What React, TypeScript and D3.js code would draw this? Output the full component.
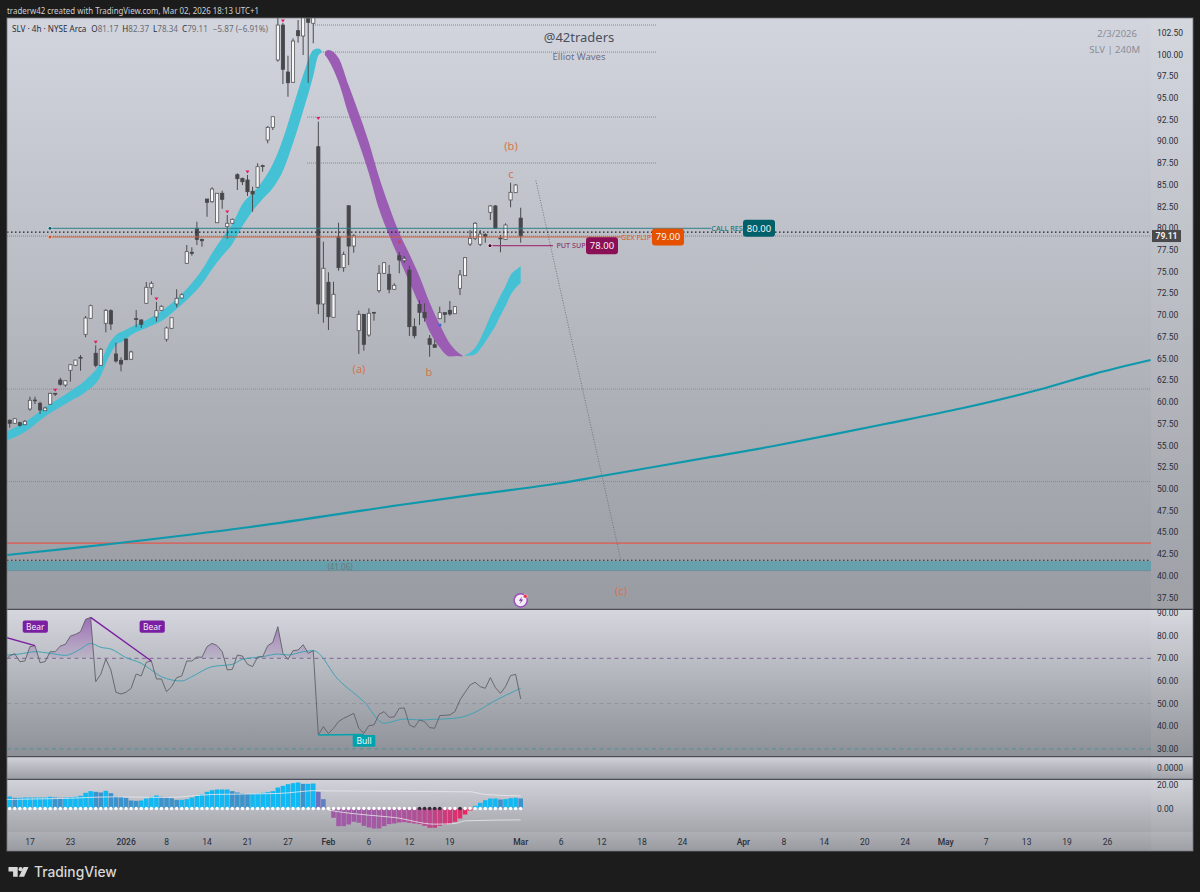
import React from "react";
import * as d3 from "d3";

// 4h candles, bar index 0..101
const opens = [
  57.91,57.56,57.63,57.40,59.21,60.24,59.86,59.01,59.75,61.01,
  62.54,61.97,63.66,64.23,65.15,67.80,69.64,65.62,64.23,69.07,
  70.52,65.54,64.81,67.26,64.93,69.60,69.45,71.37,73.16,69.79,
  70.56,67.23,68.49,71.29,71.98,75.97,77.24,80.00,78.73,83.37,
  83.06,80.64,84.03,80.18,80.58,86.17,85.75,85.56,84.26,84.72,
  87.20,90.16,91.62,99.37,103.39,97.98,96.80,102.74,102.13,104.16,
  103.59,89.39,71.29,73.79,69.76,79.03,75.47,82.60,77.96,68.22,
  70.10,67.72,70.33,72.82,74.82,74.71,72.98,76.85,76.27,75.20,
  68.68,71.25,70.33,67.30,66.60,69.60,70.29,70.56,70.17,73.09,
  74.55,78.19,78.85,78.16,79.31,81.84,82.57,78.88,78.73,83.26,
  84.10,81.17,
];
const closes = [
  57.56,58.09,57.33,57.79,60.21,60.16,59.09,59.32,61.01,60.93,
  62.05,62.46,64.30,64.84,65.07,69.68,71.09,64.23,66.08,70.56,
  68.99,64.73,64.38,64.88,65.77,69.53,68.95,73.21,73.67,70.52,
  71.02,68.53,69.71,71.94,72.36,77.31,77.12,78.73,78.57,82.99,
  84.52,84.03,83.34,80.58,81.04,85.71,85.36,84.21,83.95,87.09,
  87.13,91.62,92.84,103.39,98.30,96.75,101.55,102.16,105.50,103.70,
  104.60,71.29,75.40,69.83,72.41,75.47,77.00,77.96,79.15,70.10,
  66.65,70.22,70.25,74.82,76.04,72.98,73.44,76.35,76.55,68.68,
  67.64,70.33,69.71,66.65,66.31,70.29,70.10,70.14,70.98,74.63,
  76.62,78.85,80.58,79.34,79.03,82.57,80.00,78.80,80.38,84.14,
  84.98,79.11,
];
const highs = [
  58.02,58.17,57.75,57.94,60.62,60.62,60.05,59.47,61.08,61.01,
  62.81,62.46,64.38,64.84,65.42,69.91,71.21,66.54,66.23,70.71,
  70.68,66.83,65.15,67.32,65.91,70.60,69.53,73.82,73.90,71.52,
  71.14,68.68,69.71,72.98,72.52,78.08,77.81,80.76,78.80,83.37,
  84.72,84.06,84.33,81.53,81.13,86.33,85.82,86.13,84.79,87.48,
  87.32,91.77,92.84,105.2,103.62,99.86,101.86,103.97,107.0,106.0,
  107.0,92.27,78.46,74.94,73.85,80.64,77.31,82.60,79.34,70.52,
  70.14,70.79,70.36,75.78,76.12,75.78,73.67,77.27,76.81,75.70,
  69.64,71.75,71.37,67.72,67.15,70.98,70.31,71.63,71.06,75.20,
  76.70,79.80,80.72,79.80,79.42,82.68,82.68,79.23,80.57,85.25,
  85.10,82.37,
];
const lows = [
  57.05,57.48,57.17,57.35,59.01,59.78,58.63,58.98,59.67,60.70,
  61.89,61.77,62.35,64.15,63.61,67.46,69.56,64.00,64.15,68.03,
  68.30,64.53,63.54,64.84,64.84,68.61,68.53,71.29,72.32,69.25,
  70.48,66.95,68.41,70.91,71.94,75.89,76.85,78.08,77.88,81.33,
  82.95,80.61,82.25,78.80,80.49,84.41,84.98,83.72,81.91,84.64,
  86.51,89.78,91.31,99.17,96.60,95.14,96.75,101.36,99.94,96.75,
  101.29,70.14,69.13,68.30,69.71,75.12,75.00,75.76,77.19,65.54,
  65.91,67.53,69.37,72.59,74.74,72.52,72.90,74.82,76.00,67.61,
  67.34,68.87,69.25,65.22,66.26,69.53,69.13,69.94,70.14,72.32,
  74.51,77.96,78.65,77.96,78.34,80.95,79.95,77.24,78.65,82.42,
  84.06,78.34,
];
const signalBars = [9, 17, 29, 43, 47, 54, 61];

// ribbon pieces: bar index, upper edge, lower edge
const riseIdx = [-0.6,3,7,12,15,18,19.5,21,22.5,24,27,30,33,36,38,40,42,44,46,48,50,52,54,56,58,60,61,61.6];
const riseHi = [56.62,57.71,59.38,61.28,62.54,64.61,66.57,67.72,68.18,68.64,69.45,70.48,71.86,73.71,75.2,77.16,78.88,80.49,82.80,84.06,85.44,87.40,90.28,93.96,97.64,100.52,100.69,100.46];
const riseLo = [55.58,56.56,58.34,60.13,61.16,63.0,65.07,66.57,67.03,67.72,68.53,69.33,70.71,72.32,73.59,75.32,76.81,78.19,80.26,81.99,83.37,84.64,86.59,89.81,93.50,97.52,99.88,100.17];
const fallIdx = [62.3,63,65,67,69,71,73,75,77,79,81,83,85,87,88.5,89.5];
const fallHi = [100.29,100.52,99.6,96.43,93.27,89.87,85.90,82.51,79.46,77.04,74.45,71.46,68.93,66.74,65.77,65.36];
const fallLo = [99.94,99.37,96.83,93.09,89.82,86.31,82.22,79.17,76.47,73.82,71.12,68.12,66.28,65.25,65.30,65.25];
const reboundIdx = [90,91,92,93,94,95,96,97,98,99,100,101];
const reboundHi = [65.42,65.71,66.28,67.26,68.53,69.91,71.06,72.27,73.36,74.63,75.2,75.66];
const reboundLo = [65.30,65.36,65.48,66.11,66.92,67.84,68.76,69.96,71.06,72.32,73.13,73.71];

// long moving average
const maIdx = [-0.6,20.8,47.5,77.1,93,108.7,117,139,151,173,188.2,203.2,214.7,225.5];
const maVal = [42.40,43.73,45.63,48.16,49.43,50.66,51.50,53.72,54.95,57.48,59.29,61.39,63.31,64.84];

// rsi from bar -1
const rsi = [
  68.5,71.16,72.04,68.51,68.81,75.13,75.57,68.07,68.51,72.92,72.92,
  75.42,76.16,79.83,80.57,81.75,87.19,88.07,59.69,62.93,69.69,
  64.84,54.99,54.25,54.99,56.75,63.07,62.19,68.22,68.81,60.87,
  60.87,55.28,57.49,61.46,62.19,68.81,68.81,70.57,70.43,75.13,
  76.60,75.57,72.92,64.84,65.13,71.45,71.01,67.34,66.31,70.57,
  70.72,75.57,77.04,83.95,72.19,69.54,73.37,73.66,76.01,72.19,
  73.37,36.16,39.84,36.75,39.11,42.05,43.52,44.55,45.72,39.11,
  36.90,40.28,40.58,45.28,46.46,43.96,44.10,47.93,48.07,40.58,
  39.55,42.78,42.05,39.40,39.11,44.69,44.84,44.99,46.46,51.60,
  54.99,58.22,59.40,57.49,56.75,61.46,57.04,54.54,57.49,62.34,
  62.93,52.04,
];
const rsiMaIdx = [-0.6,2,5,8,11,14,16,18,20,23,26,28,30,34,36,40,44,46,50,53,55,58,60,65,70,74,78,81,84,88,92,95,101];
const rsiMaVal = [71.45,71.89,72.92,72.19,71.31,74.10,76.60,74.84,74.10,70.28,67.78,64.84,61.90,59.98,61.90,66.31,67.34,69.54,70.72,71.89,71.45,72.92,73.37,60.43,50.87,41.31,43.22,42.78,43.07,43.52,46.16,50.13,56.75];

// oscillator histogram, bar index 0..101
const osc = [
  10.26,9.12,9.12,9.40,9.40,9.40,9.40,9.40,9.97,9.40,
  9.12,9.40,9.69,9.97,10.83,13.39,14.81,14.25,13.68,15.10,
  13.11,10.26,9.97,9.12,6.84,6.55,6.84,8.55,9.97,11.11,
  9.97,9.40,8.83,7.41,7.41,7.98,9.40,10.83,11.97,14.25,
  15.67,16.24,16.24,16.24,14.81,13.68,12.82,12.54,12.54,12.82,
  13.39,13.96,14.81,17.95,19.37,20.80,21.65,22.22,21.08,21.08,
  21.37,14.25,7.98,0,-7.98,-15.10,-15.10,-13.68,-11.40,-12.25,
  -14.81,-16.24,-17.09,-17.09,-15.10,-13.39,-12.82,-11.97,-11.68,-12.25,
  -12.82,-13.39,-14.81,-16.52,-16.52,-14.81,-13.68,-13.11,-11.40,-8.55,
  -5.13,-1.71,2.28,4.84,7.12,8.55,8.55,7.69,7.98,8.83,
  9.12,8.55,
];
const squeezeBars = [81, 82, 83, 84, 85, 89];
const bandUpIdx = [-0.6,10,21,31,40,53,61,62,91,94,101];
const bandUpVal = [7.69,8.55,9.97,9.40,11.97,12.82,15.38,15.10,14.25,11.97,10.83];
const bandDnIdx = [63,66,71,76,84,88,90,101];
const bandDnVal = [-1.42,-3.42,-5.70,-7.69,-13.39,-12.82,-10.54,-9.69];

const priceTicks = d3.range(37.5, 103, 2.5);
const rsiTicks = [30, 40, 50, 60, 70, 80, 90];
const dateTickBars = [4,12,23,31,39,47,55,63,71,79,87,101,109,117,125,133,145,153,161,169,177,185,193,201,209,217];
const dateTickLabels = ["17","23","2026","8","14","21","27","Feb","6","12","19","Mar","6","12","18","24","Apr","8","14","20","24","May","7","13","19","26"];
const boldTicks = ["2026", "Feb", "Mar", "Apr", "May"];

const fullLevels = [61.5, 50.86];
const shortLevels = [103.39, 100.28, 92.8, 87.51];

const W = 1200;
const H = 892;
const L = 7;
const R = 1151;
const FONT = "'Noto Sans', sans-serif";

const x = d3.scaleLinear().domain([0, 101]).range([9.7, 520.7]);
const y = d3.scaleLinear().domain([100, 40]).range([54.5, 575.9]);
const yRsi = d3.scaleLinear().domain([70, 30]).range([658.3, 748.9]);
const yOsc = d3.scaleLinear().domain([0, 20]).range([808.5, 785.1]);

function ribbon(idx: number[], hi: number[], lo: number[]) {
  return d3.area<number>()
    .x((d) => x(d))
    .y0((_, i) => y(lo[i]))
    .y1((_, i) => y(hi[i]))
    .curve(d3.curveMonotoneX)(idx) as string;
}
const linePath = (xs: number[], ys: number[], sy: (v: number) => number, curve: d3.CurveFactory = d3.curveLinear) =>
  d3.line<number>().x((d) => x(d)).y((_, i) => sy(ys[i])).curve(curve)(xs) as string;

const rsiBars = rsi.map((_, i) => i - 1);

function oscColor(i: number) {
  const v = osc[i];
  if (v < 0) return d3.interpolateRgb("#a15ba6", "#f0215a")(Math.pow((i - 64) / 27, 3));
  if (i === 61) return "#6e6fbe";
  if (i === 62) return "#5c7fc6";
  return i > 0 && v < osc[i - 1] ? "#3c93cb" : "#10b9f3";
}

function Tag({ cx, cy, w, text, fill }: { cx: number; cy: number; w: number; text: string; fill: string }) {
  return (
    <g>
      <rect x={cx - w / 2} y={cy - 8.5} width={w} height={17} rx={3} fill={fill} />
      <text x={cx} y={cy + 3.4} textAnchor="middle" fontSize={9.5} fill="#f4f4f4">{text}</text>
    </g>
  );
}

function Grad({ id, stops }: { id: string; stops: [number, string][] }) {
  return (
    <linearGradient id={id} x1="0" y1="0" x2="0" y2="1">
      {stops.map(([o, c]) => <stop key={o} offset={o} stopColor={c} />)}
    </linearGradient>
  );
}

export default function App() {
  const rsiArea = d3.area<number>()
    .x((d) => x(d))
    .y0(yRsi(70))
    .y1((_, i) => yRsi(rsi[i]))(rsiBars) as string;

  return (
    <svg width={W} height={H} viewBox={`0 0 ${W} ${H}`} fontFamily={FONT} style={{ position: "fixed", left: 0, top: 0 }}>
      <defs>
        <Grad id="gMain" stops={[[0, "#d2d5dd"], [0.5, "#b7b9c1"], [1, "#999ba2"]]} />
        <Grad id="gRsi" stops={[[0, "#d6d7de"], [0.5, "#b0b2b9"], [1, "#8e9097"]]} />
        <Grad id="gThin" stops={[[0, "#d2d3da"], [1, "#9b9da4"]]} />
        <Grad id="gOsc" stops={[[0, "#d2d3da"], [1, "#a4a6ac"]]} />
        <Grad id="gTime" stops={[[0, "#aeb0b6"], [1, "#999ba1"]]} />
        <linearGradient id="gOver" gradientUnits="userSpaceOnUse" x1="0" y1={yRsi(88)} x2="0" y2={yRsi(70)}>
          <stop offset={0} stopColor="#8a4aa8" stopOpacity={0.75} />
          <stop offset={1} stopColor="#8a4aa8" stopOpacity={0.08} />
        </linearGradient>
        <clipPath id="cMain"><rect x={L} y={18} width={R - L} height={591} /></clipPath>
        <clipPath id="cRsi"><rect x={L} y={610} width={R - L} height={146} /></clipPath>
        <clipPath id="cOver"><rect x={L} y={610} width={R - L} height={yRsi(70) - 610} /></clipPath>
      </defs>

      <rect width={W} height={H} fill="#1c1c1c" />
      <text x={7} y={13.5} fontSize={9.4} fill="#cfd0d0" textLength={252} lengthAdjust="spacingAndGlyphs">traderw42 created with TradingView.com, Mar 02, 2026 18:13 UTC+1</text>

      {/* pane backgrounds */}
      <rect x={L} y={18} width={1186} height={591.5} fill="url(#gMain)" />
      <rect x={L} y={609.5} width={1186} height={147} fill="url(#gRsi)" />
      <rect x={L} y={756.5} width={1186} height={23} fill="url(#gThin)" />
      <rect x={L} y={779.5} width={1186} height={52.5} fill="url(#gOsc)" />
      <rect x={L} y={832} width={1186} height={19} fill="url(#gTime)" />
      <rect x={R} y={18} width={42} height={833} fill="#ffffff" opacity={0.05} />

      {/* main pane */}
      <g clipPath="url(#cMain)">
        {fullLevels.map((v) => (
          <line key={v} x1={L} x2={R} y1={y(v)} y2={y(v)} stroke="#7f8188" strokeWidth={0.8} strokeDasharray="1 1" />
        ))}
        {shortLevels.map((v, i) => (
          <line key={v} x1={i < 2 ? 313 : 307} x2={657} y1={y(v)} y2={y(v)} stroke={i < 2 ? "#7e6a98" : "#777980"} strokeWidth={0.8} strokeDasharray="1 1" />
        ))}

        <rect x={L} y={y(41.7)} width={R - L} height={y(40.6) - y(41.7)} fill="#66a0ac" />
        <line x1={L} x2={R} y1={y(40.6)} y2={y(40.6)} stroke="#6f8f98" strokeWidth={1} />
        <line x1={L} x2={R} y1={y(41.8)} y2={y(41.8)} stroke="#1f2a30" strokeWidth={1.2} strokeDasharray="1.5 2.5" />
        <line x1={L} x2={R} y1={y(43.78)} y2={y(43.78)} stroke="#e0574c" strokeWidth={1.2} />
        <text x={340} y={y(41.06) + 3} textAnchor="middle" fontSize={8} fill="#70767c">(41.06)</text>

        <line x1={x(104)} y1={y(85.5)} x2={x(120.8)} y2={y(41.8)} stroke="#6c6e74" strokeWidth={0.9} strokeDasharray="1 1.5" />

        <path d={linePath(maIdx, maVal, y, d3.curveCatmullRom)} fill="none" stroke="#0e98ab" strokeWidth={2.2} />

        <path d={ribbon(riseIdx, riseHi, riseLo)} fill="#45c1d6" />
        <path d={ribbon(fallIdx, fallHi, fallLo)} fill="#9a5db3" />
        <path d={ribbon(reboundIdx, reboundHi, reboundLo)} fill="#45c1d6" />

        {opens.map((o, i) => {
          const c = closes[i];
          const up = c >= o;
          const top = y(Math.max(o, c));
          const bot = y(Math.min(o, c));
          return (
            <g key={i}>
              <line x1={x(i)} x2={x(i)} y1={y(highs[i])} y2={y(lows[i])} stroke="#4a4a4e" strokeWidth={1} />
              <rect
                x={x(i) - 1.6}
                y={top}
                width={3.2}
                height={Math.max(bot - top, 0.8)}
                fill={up ? "#f7f7f7" : "#47474b"}
                stroke={up ? "#55555a" : "#47474b"}
                strokeWidth={0.8}
              />
            </g>
          );
        })}

        {signalBars.map((i) => {
          const my = y(highs[i]) - 3.2;
          const top = i === 54 ? 21 : my;
          return <path key={i} d={`M${x(i) - 2},${top - 1.4} h4 l-2,3 z`} fill="#e6195f" />;
        })}

        <circle cx={440} cy={325} r={1.6} fill="#3a6fd0" />
        <circle cx={399.5} cy={242} r={1.5} fill="#c2445c" />

        {/* gamma levels */}
        <line x1={50} x2={711} y1={y(80)} y2={y(80)} stroke="#2f7f8c" strokeWidth={1} />
        <line x1={L} x2={R} y1={y(79.57)} y2={y(79.57)} stroke="#1d1d22" strokeWidth={1.2} strokeDasharray="1.5 2.5" />
        <line x1={50} x2={621} y1={y(79)} y2={y(79)} stroke="#c9623e" strokeWidth={1} />
        <line x1={L} x2={R} y1={y(79.11)} y2={y(79.11)} stroke="#6a6c72" strokeWidth={0.7} strokeDasharray="1 1" />
        <line x1={490} x2={553} y1={y(78)} y2={y(78)} stroke="#a43a7c" strokeWidth={1.2} />
        <circle cx={50} cy={y(80)} r={1.9} fill="#00606a" stroke="#e8eef0" strokeWidth={0.7} />
        <circle cx={50} cy={y(79)} r={1.9} fill="#c9522e" stroke="#f0d8c8" strokeWidth={0.7} />
        <circle cx={490} cy={y(78)} r={2} fill="#3b0a28" stroke="#f6dbe8" strokeWidth={0.9} />
      </g>

      <g fontSize={7.2} fontWeight={500} textAnchor="middle">
        <text x={571} y={y(78) + 2.8} fill="#8a3a70">PUT SUP</text>
        <text x={636} y={y(79) + 2.8} fill="#d2693f">GEX FLIP</text>
        <text x={727} y={y(80) + 2.8} fill="#26757a">CALL RES</text>
      </g>
      <Tag cx={602} cy={y(78)} w={32} text="78.00" fill="#8b0f56" />
      <Tag cx={668} cy={y(79)} w={32} text="79.00" fill="#e65100" />
      <Tag cx={759} cy={y(80)} w={32} text="80.00" fill="#00606a" />

      <g fill="#d6744a" textAnchor="middle">
        <text x={511} y={150} fontSize={11}>(b)</text>
        <text x={511} y={177.5} fontSize={11}>c</text>
        <text x={359} y={373} fontSize={11}>(a)</text>
        <text x={429} y={376} fontSize={11}>b</text>
        <text x={621} y={595} fontSize={11}>(c)</text>
      </g>
      <text x={579} y={42} textAnchor="middle" fontSize={13} fill="#4b4f5c">@42traders</text>
      <text x={579} y={60} textAnchor="middle" fontSize={9.5} fill="#6f6f85">Elliot Waves</text>
      <text x={1137} y={37} textAnchor="end" fontSize={9.5} fill="#8a8d96">2/3/2026</text>
      <text x={1140} y={53} textAnchor="end" fontSize={9.5} fill="#8a8d96">SLV | 240M</text>

      <text x={12} y={32} fontSize={8.1} fill="#2a2e39">
        SLV · 4h · NYSE Arca
        <tspan dx={5}>O</tspan><tspan fill="#6a6d76">81.17</tspan>
        <tspan dx={4}>H</tspan><tspan fill="#6a6d76">82.37</tspan>
        <tspan dx={4}>L</tspan><tspan fill="#6a6d76">78.34</tspan>
        <tspan dx={4}>C</tspan><tspan fill="#6a6d76">79.11</tspan>
        <tspan dx={5} fill="#6a6d76">−5.87 (−6.91%)</tspan>
      </text>

      {/* bolt icon */}
      <circle cx={520.7} cy={600.3} r={6.6} fill="#f3eef6" stroke="#9b4fc0" strokeWidth={1.5} />
      <path d="M522.2,596.6 l-3.4,4.2 h2.2 l-1.4,3.2 l3.6,-4.4 h-2.2 z" fill="#7b2fa6" />
      <circle cx={525.3} cy={596.3} r={2} fill="#e8344a" stroke="#f3eef6" strokeWidth={0.5} />

      {/* rsi pane */}
      <g clipPath="url(#cRsi)">
        <line x1={L} x2={R} y1={yRsi(70)} y2={yRsi(70)} stroke="#7c5a90" strokeWidth={0.9} strokeDasharray="4 3.5" />
        <line x1={L} x2={R} y1={yRsi(50)} y2={yRsi(50)} stroke="#8b8c92" strokeWidth={0.7} strokeDasharray="4 3.5" />
        <line x1={L} x2={R} y1={yRsi(30)} y2={yRsi(30)} stroke="#3f8f98" strokeWidth={0.8} strokeDasharray="4 3.5" />
        <path d={rsiArea} fill="url(#gOver)" clipPath="url(#cOver)" />
        <path d={linePath(rsiMaIdx, rsiMaVal, yRsi, d3.curveMonotoneX)} fill="none" stroke="#3fa3b6" strokeWidth={1} />
        <path d={linePath(rsiBars, rsi, yRsi)} fill="none" stroke="#5f6068" strokeWidth={0.9} />
        <line x1={x(-0.6)} y1={yRsi(79.1)} x2={x(5)} y2={yRsi(75.57)} stroke="#7b1fa2" strokeWidth={1.4} />
        <line x1={x(16)} y1={yRsi(88.07)} x2={x(28)} y2={yRsi(68.81)} stroke="#7b1fa2" strokeWidth={1.4} />
        <line x1={x(61)} y1={yRsi(36.16)} x2={x(70)} y2={yRsi(36.4)} stroke="#00a3ad" strokeWidth={1.5} />
      </g>
      {[35.3, 152.2].map((cx) => (
        <g key={cx}>
          <rect x={cx - 12.6} y={620.6} width={25.2} height={12.2} rx={2} fill="#7b1fa2" />
          <text x={cx} y={629.9} textAnchor="middle" fontSize={8.5} fill="#f3edf6">Bear</text>
        </g>
      ))}
      <rect x={352.7} y={735} width={22.6} height={11.8} rx={1} fill="#00a3ad" />
      <text x={364} y={744} textAnchor="middle" fontSize={8.5} fill="#eefafa">Bull</text>

      {/* oscillator pane */}
      {osc.map((v, i) => (
        <rect
          key={i}
          x={x(i) - 2.3}
          y={Math.min(yOsc(v), yOsc(0))}
          width={4.6}
          height={Math.abs(yOsc(v) - yOsc(0))}
          fill={oscColor(i)}
        />
      ))}
      <path d={linePath(bandUpIdx, bandUpVal, yOsc, d3.curveMonotoneX)} fill="none" stroke="#e8e9ee" strokeWidth={1} opacity={0.8} />
      <path d={linePath(bandDnIdx, bandDnVal, yOsc, d3.curveMonotoneX)} fill="none" stroke="#e8e9ee" strokeWidth={1} opacity={0.8} />
      {osc.map((_, i) => (
        <circle key={i} cx={x(i)} cy={yOsc(0)} r={1.75} fill={squeezeBars.includes(i) ? "#2c2c33" : "#ffffff"} />
      ))}

      {/* pane borders */}
      <g stroke="#4d4e55" strokeWidth={1.3}>
        <line x1={L} x2={1193} y1={609.4} y2={609.4} />
        <line x1={L} x2={1193} y1={756.7} y2={756.7} />
        <line x1={L} x2={1193} y1={779.4} y2={779.4} />
      </g>
      <rect x={L} y={18} width={1186} height={833} fill="none" stroke="#777980" strokeWidth={0.8} />

      {/* axes */}
      <g fontSize={8.5} fill="#2a2e39" fontFamily="Roboto, sans-serif">
        {priceTicks.map((t) => (
          <text key={t} x={1157} y={y(t) + 3}>{t.toFixed(2)}</text>
        ))}
        {rsiTicks.map((t) => (
          <text key={t} x={1157} y={yRsi(t) + 3}>{t.toFixed(2)}</text>
        ))}
        <text x={1157} y={771}>0.0000</text>
        <text x={1157} y={yOsc(20) + 3}>20.00</text>
        <text x={1157} y={yOsc(0) + 3}>0.00</text>
        {dateTickBars.map((b, i) => {
          const label = dateTickLabels[i];
          return (
            <text key={b} x={x(b)} y={844.5} textAnchor="middle" fontWeight={boldTicks.includes(label) ? 500 : 400}>{label}</text>
          );
        })}
      </g>
      <rect x={1152} y={y(79.11) - 6} width={29} height={12} fill="#4a4a4d" />
      <text x={1166.5} y={y(79.11) + 3} textAnchor="middle" fontSize={8.5} fontWeight={700} fontFamily="Roboto, sans-serif" fill="#f2f2f2">79.11</text>

      {/* logo */}
      <g fill="#d8d8d8">
        <path d="M8.5,867 h9.2 v9.7 h-4.6 v-5.2 h-4.6 z" />
        <circle cx={20.6} cy={869.2} r={2.1} />
        <path d="M23.6,867 h4.9 l-4.4,9.7 h-5.2 z" />
      </g>
      <text x={34} y={876.7} fontSize={13.8} fontWeight={500} fill="#d8d8d8" fontFamily="Inter, sans-serif">TradingView</text>
    </svg>
  );
}
